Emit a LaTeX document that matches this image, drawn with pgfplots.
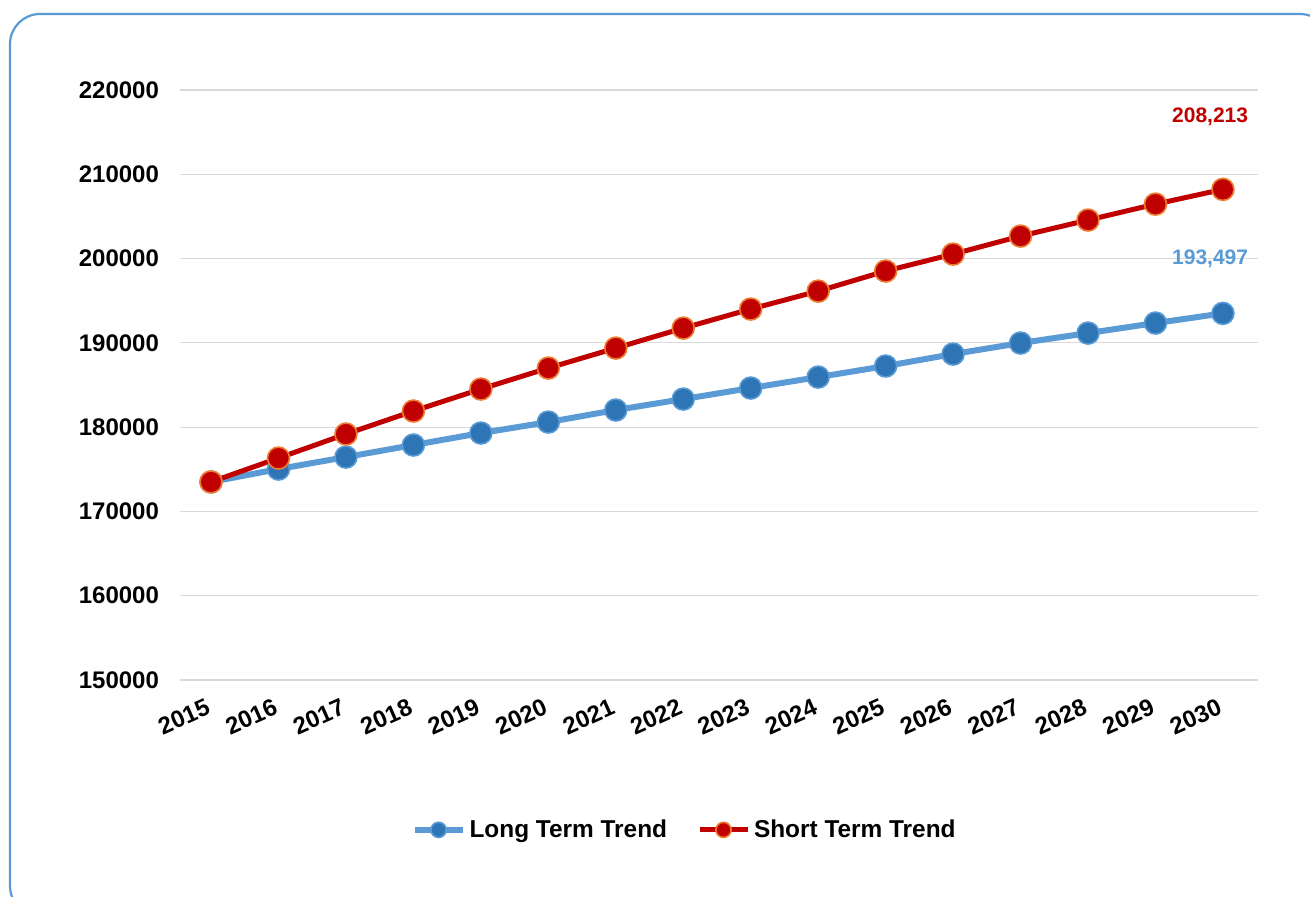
\documentclass[border=0pt]{standalone}
\usepackage{fontspec}
\setmainfont{Liberation Sans}
\usepackage{pgfplots}
\pgfplotsset{compat=1.18}

\definecolor{ltblue}{RGB}{91,155,213}
\definecolor{dkblue}{RGB}{46,117,182}
\definecolor{dkred}{RGB}{192,0,0}
\definecolor{orng}{RGB}{237,125,49}
\definecolor{gridgray}{RGB}{217,217,217}

\begin{document}
\begin{tikzpicture}
\useasboundingbox (0,0) rectangle (655pt,448pt);
\fill[white] (0,0) rectangle (655pt,448pt);
\draw[ltblue, line width=1.1pt, rounded corners=15pt] (5pt,-10pt) rectangle (665pt,441pt);

\begin{axis}[
    at={(90pt,108pt)}, anchor=south west,
    scale only axis,
    width=539pt, height=295pt,
    xmin=2014.54, xmax=2030.52,
    ymin=150000, ymax=220000,
    xtick={2015,...,2030},
    ytick={150000,160000,...,220000},
    scaled y ticks=false,
    axis line style={draw=none},
    major tick length=0pt,
    ymajorgrids,
    grid style={gridgray, line width=0.6pt},
    /pgf/number format/assume math mode=true,
    /pgf/number format/fixed,
    /pgf/number format/precision=0,
    /pgf/number format/1000 sep={},
    ticklabel style={font=\fontsize{12}{14}\selectfont\bfseries},
    yticklabel style={xshift=-7pt},
    xticklabel style={rotate=24, anchor=north east, yshift=-3.5pt, xshift=-3pt},
    legend columns=2,
    legend style={at={(0.469,-0.254)}, anchor=center, draw=none,
        font=\fontsize{12.2}{14}\selectfont\bfseries,
        /tikz/every even column/.append style={column sep=13pt}},
    legend image code/.code={
        \draw[#1, mark=none] (0pt,0pt) -- (24pt,0pt);
        \draw[#1, mark size=3.8pt] plot coordinates {(12pt,0pt)};
    },
    clip=false,
]
\addplot[ltblue, line width=3pt, mark=*, mark size=5.5pt,
    mark options={fill=dkblue, draw=ltblue, line width=0.8pt}] coordinates {
    (2015,173500) (2016,175030) (2017,176450) (2018,177880) (2019,179300)
    (2020,180600) (2021,182030) (2022,183330) (2023,184640) (2024,185940)
    (2025,187250) (2026,188670) (2027,189980) (2028,191160) (2029,192350)
    (2030,193497)
};
\addlegendentry{Long Term Trend}
\addplot[dkred, line width=2.5pt, mark=*, mark size=5.5pt,
    mark options={fill=dkred, draw=orng, line width=0.8pt}] coordinates {
    (2015,173500) (2016,176330) (2017,179180) (2018,181910) (2019,184520)
    (2020,187010) (2021,189380) (2022,191750) (2023,194010) (2024,196140)
    (2025,198520) (2026,200530) (2027,202670) (2028,204570) (2029,206460)
    (2030,208213)
};
\addlegendentry{Short Term Trend}
\node[dkred, font=\fontsize{10.5}{12}\selectfont\bfseries] at (axis cs:2029.81,216785) {208,213};
\node[ltblue, font=\fontsize{10.5}{12}\selectfont\bfseries] at (axis cs:2029.81,199940) {193,497};
\end{axis}
\end{tikzpicture}
\end{document}
